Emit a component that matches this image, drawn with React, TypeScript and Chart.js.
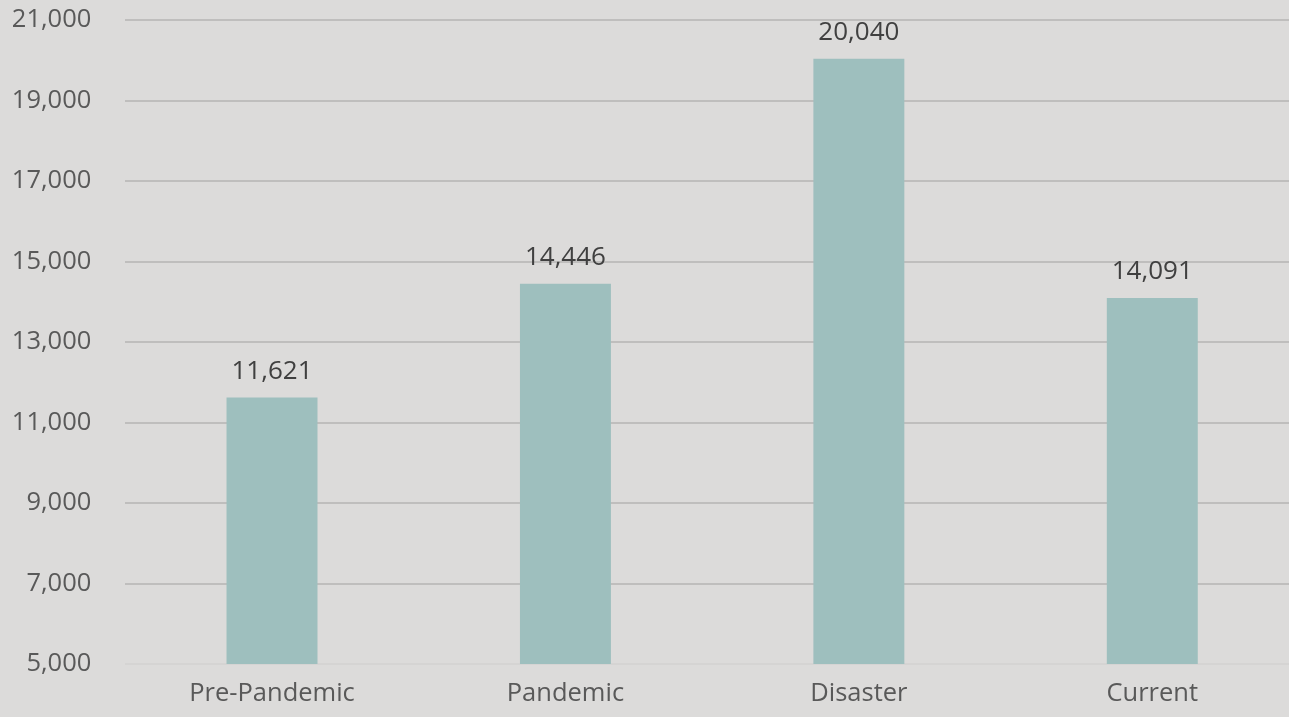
import React, { useEffect, useRef } from "react";
import { Chart, registerables } from "chart.js";

Chart.register(...registerables);

const categories = ["Pre-Pandemic", "Pandemic", "Disaster", "Current"];
const values = [11621, 14446, 20040, 14091];
const yTicks = [5000, 7000, 9000, 11000, 13000, 15000, 17000, 19000, 21000];

const BG = "#dcdbda";
const BAR = "#9ebfbe";
const FONT = "'Open Sans', sans-serif";

const labelPlugin = {
  id: "barLabels",
  afterDatasetsDraw(chart: any) {
    const ctx = chart.ctx;
    const meta = chart.getDatasetMeta(0);
    ctx.save();
    ctx.font = `26px ${FONT}`;
    ctx.fillStyle = "#404040";
    ctx.textAlign = "center";
    ctx.textBaseline = "middle";
    meta.data.forEach((el: any, i: number) => {
      ctx.fillText(values[i].toLocaleString("en-US"), el.x, el.y - 26);
    });
    ctx.restore();
  },
};

export default function App() {
  const ref = useRef<HTMLCanvasElement | null>(null);
  useEffect(() => {
    document.body.style.background = BG;
    document.body.style.overflow = "hidden";
    const chart = new Chart(ref.current as HTMLCanvasElement, {
      type: "bar",
      data: {
        labels: categories,
        datasets: [
          {
            data: values,
            backgroundColor: BAR,
            borderWidth: 0,
            barPercentage: 0.31,
            categoryPercentage: 1,
          },
        ],
      },
      plugins: [labelPlugin],
      options: {
        animation: false,
        responsive: false,
        maintainAspectRatio: false,
        layout: { padding: { top: 20, left: 0, right: 0, bottom: 0 } },
        plugins: { legend: { display: false }, tooltip: { enabled: false } },
        scales: {
          x: {
            grid: { display: false },
            border: { display: true, color: "#d5d4d3", width: 1 },
            ticks: { color: "#595959", font: { family: FONT, size: 25.5 }, padding: 6 },
            afterFit(scale: any) {
              scale.height = 53;
              scale.paddingLeft = 0;
              scale.paddingRight = 0;
            },
          },
          y: {
            min: 5000,
            max: 21000,
            afterBuildTicks(scale: any) {
              scale.ticks = yTicks.map((v) => ({ value: v }));
            },
            grid: {
              color: (c: any) => (c.tick && c.tick.value === 5000 ? "#d5d4d3" : "#bfbebd"),
              lineWidth: 2,
              drawTicks: false,
            },
            border: { display: false },
            ticks: {
              color: "#595959",
              font: { family: FONT, size: 25.5 },
              padding: 34,
              callback: (v: any) => Number(v).toLocaleString("en-US"),
            },
            afterFit(scale: any) {
              scale.width = 125.3;
              scale.paddingTop = 0;
              scale.paddingBottom = 0;
            },
          },
        },
      },
    });
    return () => chart.destroy();
  }, []);
  return (
    <div style={{ position: "absolute", left: 0, top: 0, width: 1299, height: 717, background: BG }}>
      <canvas ref={ref} width={1299} height={717} style={{ display: "block" }} />
    </div>
  );
}
